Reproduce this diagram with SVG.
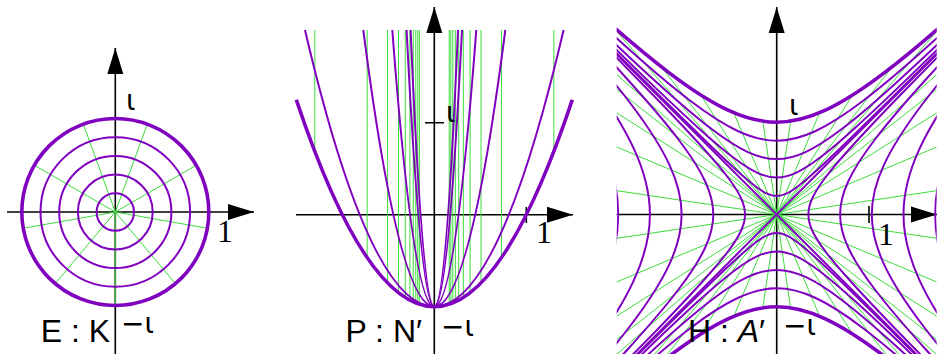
<svg xmlns="http://www.w3.org/2000/svg" xmlns:xlink="http://www.w3.org/1999/xlink" width="938" height="354" viewBox="0 0 938 354">
<style>
.ax{stroke:#000;stroke-width:1.6;fill:none;marker-end:url(#arr)}
.tk{stroke:#000;stroke-width:1.6;fill:none}
.g{stroke:#3cdc3c;stroke-width:1;fill:none}
.p{stroke:#8000c0;stroke-width:2;fill:none}
.pt{stroke:#8000c0;stroke-width:3.6;fill:none}
.lb{font-family:"Liberation Sans","DejaVu Sans",sans-serif;font-size:32px;fill:#000}
.io{font-family:"DejaVu Sans","Noto Sans",sans-serif;font-size:28px;fill:#000}
.one{font-family:"Liberation Serif",serif;font-size:32px;fill:#000}
</style>
<defs>
<marker id="arr" markerUnits="userSpaceOnUse" markerWidth="28" markerHeight="18" refX="26" refY="8" orient="auto" overflow="visible"><path d="M0,0 L26,8 L0,16 z" fill="#000"/></marker>
<path id="hyp" vector-effect="non-scaling-stroke" d="M-10.0179,-10.0677 C-8.3399,-8.398 -7.0722,-7.1407 -6.0502,-6.1323 C-5.0282,-5.1239 -4.2539,-4.3667 -3.6269,-3.7622 C-2.9999,-3.1577 -2.5214,-2.7073 -2.1293,-2.3524 C-1.7372,-1.9975 -1.4324,-1.739 -1.1752,-1.5431 C-0.918,-1.3472 -0.709,-1.2144 -0.5211,-1.1276 C-0.3332,-1.0408 -0.1667,-1 0,-1 C0.1667,-1 0.3332,-1.0408 0.5211,-1.1276 C0.709,-1.2144 0.918,-1.3472 1.1752,-1.5431 C1.4324,-1.739 1.7372,-1.9975 2.1293,-2.3524 C2.5214,-2.7073 2.9999,-3.1577 3.6269,-3.7622 C4.2539,-4.3667 5.0282,-5.1239 6.0502,-6.1323 C7.0722,-7.1407 8.3399,-8.398 10.0179,-10.0677"/>
<clipPath id="c3"><rect x="616.7" y="0" width="320" height="360"/></clipPath>
</defs>

<g id="panel-elliptic">
  <g id="e-axes">
    <path class="ax" d="M7,212 H254"/>
    <path class="ax" d="M115.3,354 V48"/>
  </g>
  <g id="e-green" class="g">
    <path d="M115.3,212 L115.3,305.5 M115.3,212 L175.4,283.63 M115.3,212 L207.38,228.24 M115.3,212 L196.27,165.25 M115.3,212 L147.28,124.14 M115.3,212 L83.32,124.14 M115.3,212 L34.33,165.25 M115.3,212 L23.22,228.24 M115.3,212 L55.2,283.63"/>
  </g>
  <g id="e-circles">
    <circle class="p" cx="115.3" cy="212" r="18.7"/>
    <circle class="p" cx="115.3" cy="212" r="37.4"/>
    <circle class="p" cx="115.3" cy="212" r="56.1"/>
    <circle class="p" cx="115.3" cy="212" r="74.8"/>
    <circle class="pt" cx="115.3" cy="212" r="93.5"/>
  </g>
  <g id="e-labels">
    <text class="io" x="126" y="110">ι</text>
    <text class="one" x="217" y="242">1</text>
    <text class="io" x="121" y="333">−ι</text>
    <text class="lb" x="110" y="342" text-anchor="end">E : K</text>
  </g>
</g>

<g id="panel-parabolic">
  <g id="p-axes">
    <path class="ax" d="M296,214.7 H573"/>
    <path class="ax" d="M434.3,354 V7"/>
    <path class="tk" d="M526.3,207 V223 M425,122.7 H444"/>
  </g>
  <g id="p-green" class="g">
    <path d="M314.8,30V151.5 M367.15,30V257.7 M387.58,30V283 M398.5,30V292.8 M405.28,30V297.5 M409.9,30V300.2 M413.25,30V301.9 M415.79,30V303 M417.78,30V303.7 M419.39,30V304.3 M553.8,30V151.5 M501.45,30V257.7 M481.02,30V283 M470.1,30V292.8 M463.32,30V297.5 M458.7,30V300.2 M455.35,30V301.9 M452.81,30V303 M450.82,30V303.7 M449.21,30V304.3"/>
  </g>
  <g id="p-parabolas">
    <path class="p" d="M305,30 Q434.3,583.4 563.6,30"/>
    <path class="p" d="M363.3,30 Q434.3,583.4 505.3,30"/>
    <path class="p" d="M392.3,30 Q434.3,583.4 476.3,30"/>
    <path class="p" d="M406.6,30 Q434.3,583.4 462,30"/>
    <path class="p" d="M410.6,30 Q434.3,583.4 458,30"/>
    <path class="pt" d="M296.3,99.7 Q434.3,513.7 572.3,99.7"/>
  </g>
  <g id="p-labels">
    <text class="io" x="446" y="122">ι</text>
    <text class="one" x="536" y="243">1</text>
    <text class="io" x="441" y="336">−ι</text>
    <text class="lb" x="422" y="342" text-anchor="end">P : N′</text>
  </g>
</g>

<g id="panel-hyperbolic">
  <g id="h-axes">
    <path class="ax" d="M616.7,214.5 H937"/>
    <path class="ax" d="M776.7,354 V7"/>
    <path class="tk" d="M869,206 V223"/>
  </g>
  <g id="h-green" class="g" clip-path="url(#c3)">
    <path d="M616.7,190.68 L936.7,238.32 M616.7,238.32 L936.7,190.68 M616.7,147 L936.7,282 M616.7,282 L936.7,147 M616.7,112.88 L936.7,316.12 M616.7,316.12 L936.7,112.88 M616.7,89.41 L936.7,339.59 M616.7,339.59 L936.7,89.41 M616.7,74.65 L936.7,354.35 M616.7,354.35 L936.7,74.65"/>
    <path d="M762.8,121.16 L790.6,307.84 M790.6,121.16 L762.8,307.84 M733.75,112.7 L819.65,316.3 M819.65,112.7 L733.75,316.3 M700.8,95 L852.6,334 M852.6,95 L700.8,334 M660.97,66.47 L892.43,362.53 M892.43,66.47 L660.97,362.53 M616.7,31.44 L936.7,397.56 M936.7,31.44 L616.7,397.56"/>
  </g>
  <g id="h-hyperbolas" clip-path="url(#c3)">
    <path class="p" d="M616.7,54.5 L936.7,374.5 M616.7,374.5 L936.7,54.5"/>
    <use xlink:href="#hyp" class="p" transform="translate(776.7,214.5) scale(18.46)"/>
    <use xlink:href="#hyp" class="p" transform="translate(776.7,214.5) scale(36.92)"/>
    <use xlink:href="#hyp" class="p" transform="translate(776.7,214.5) scale(55.38)"/>
    <use xlink:href="#hyp" class="p" transform="translate(776.7,214.5) scale(73.84)"/>
    <use xlink:href="#hyp" class="pt" transform="translate(776.7,214.5) scale(92.3)"/>
    <use xlink:href="#hyp" class="p" transform="translate(776.7,214.5) scale(18.46,-18.46)"/>
    <use xlink:href="#hyp" class="p" transform="translate(776.7,214.5) scale(36.92,-36.92)"/>
    <use xlink:href="#hyp" class="p" transform="translate(776.7,214.5) scale(55.38,-55.38)"/>
    <use xlink:href="#hyp" class="p" transform="translate(776.7,214.5) scale(73.84,-73.84)"/>
    <use xlink:href="#hyp" class="pt" transform="translate(776.7,214.5) scale(92.3,-92.3)"/>
    <use xlink:href="#hyp" class="p" transform="translate(776.7,214.5) rotate(90) scale(31.7)"/>
    <use xlink:href="#hyp" class="p" transform="translate(776.7,214.5) rotate(90) scale(63.4)"/>
    <use xlink:href="#hyp" class="p" transform="translate(776.7,214.5) rotate(90) scale(95.1)"/>
    <use xlink:href="#hyp" class="p" transform="translate(776.7,214.5) rotate(90) scale(126.8)"/>
    <use xlink:href="#hyp" class="p" transform="translate(776.7,214.5) rotate(90) scale(158.5)"/>
    <use xlink:href="#hyp" class="p" transform="translate(776.7,214.5) rotate(-90) scale(31.7)"/>
    <use xlink:href="#hyp" class="p" transform="translate(776.7,214.5) rotate(-90) scale(63.4)"/>
    <use xlink:href="#hyp" class="p" transform="translate(776.7,214.5) rotate(-90) scale(95.1)"/>
    <use xlink:href="#hyp" class="p" transform="translate(776.7,214.5) rotate(-90) scale(126.8)"/>
    <use xlink:href="#hyp" class="p" transform="translate(776.7,214.5) rotate(-90) scale(158.5)"/>
  </g>
  <g id="h-labels">
    <text class="io" x="789" y="115">ι</text>
    <text class="one" x="878" y="245">1</text>
    <text class="io" x="783" y="335">−ι</text>
    <text class="lb" x="765" y="342" text-anchor="end">H : <tspan font-style="italic">A</tspan>′</text>
  </g>
</g>
</svg>
